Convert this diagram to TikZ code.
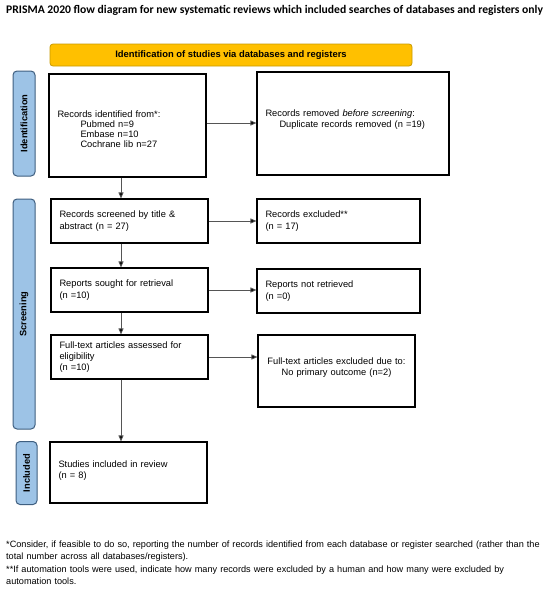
\documentclass[tikz,border=0pt]{standalone}
\usepackage{fontspec}
\setmainfont{Liberation Sans}
\newfontfamily\titlefont{Carlito}
\usetikzlibrary{arrows.meta}
\definecolor{bannerfill}{HTML}{FFC000}
\definecolor{bannerdraw}{HTML}{C99A00}
\definecolor{sidefill}{HTML}{9DC3E6}
\definecolor{sidedraw}{HTML}{3F5F80}
\definecolor{arrowgray}{HTML}{555555}
\tikzset{
  bx/.style={draw=black, line width=1.1pt, align=left, inner xsep=8.5pt, inner ysep=0pt,
    font=\fontsize{9.3}{11.2}\selectfont},
  banner/.style={draw=bannerdraw, fill=bannerfill, line width=0.8pt, rounded corners=3pt,
    font=\bfseries\fontsize{9.4}{11}\selectfont, inner sep=0pt},
  sidebar/.style={draw=sidedraw, fill=sidefill, line width=1pt, rounded corners=4pt,
    rotate=90, inner sep=0pt, font=\bfseries\fontsize{9.3}{10}\selectfont},
  arr/.style={draw=arrowgray, line width=0.8pt, -{Triangle[length=6pt,width=5pt,fill=black]}},
  foot/.style={anchor=north west, align=left, inner sep=0pt, text width=540pt,
    font=\fontsize{9.15}{12}\selectfont}
}
\begin{document}
\begin{tikzpicture}[x=1pt,y=-1pt]
\useasboundingbox[fill=white] (0,0) rectangle (550,592);

\node[anchor=west, inner sep=0pt, font=\titlefont\bfseries\fontsize{11.65}{13}\selectfont] (title) at (6,10)
  {PRISMA 2020 flow diagram for new systematic reviews which included searches of databases and registers only};

\node[banner, minimum width=362pt, minimum height=22pt] (banner) at (231,55)
  {Identification of studies via databases and registers};

% side bars
\node[sidebar, minimum width=105pt, minimum height=22pt] (sideid) at (24,123.5) {Identification};
\node[sidebar, minimum width=230pt, minimum height=22pt] (sidescr) at (24,314) {Screening};
\node[sidebar, minimum width=63pt, minimum height=21pt] (sideinc) at (26.5,473) {Included};

% boxes
\node[bx, text width=140pt, minimum height=103pt, font=\fontsize{9.3}{10}\selectfont] (b1) at (127.5,125.5)
  {\mbox{}\\[4pt]Records identified from*:\\
   \hspace*{23pt}Pubmed n=9\\
   \hspace*{23pt}Embase n=10\\
   \hspace*{23pt}Cochrane lib n=27};
\node[bx, text width=175pt, minimum height=103pt] (b2) at (353,123.5)
  {Records removed \textit{before screening}:\\
   \hspace*{14pt}Duplicate records removed (n =19)\\[-2pt]\mbox{}};
\node[bx, text width=140pt, minimum height=44pt] (b3) at (129.5,221)
  {Records screened by title \&\\abstract (n = 27)};
\node[bx, text width=146pt, minimum height=44pt] (b4) at (338.5,221)
  {Records excluded**\\(n = 17)};
\node[bx, text width=140pt, minimum height=44pt] (b5) at (129.5,290)
  {Reports sought for retrieval\\(n =10)};
\node[bx, text width=146pt, minimum height=44pt] (b6) at (338.5,291)
  {Reports not retrieved\\(n =0)};
\node[bx, text width=140pt, minimum height=44pt] (b7) at (129.5,357)
  {Full-text articles assessed for\\eligibility\\(n =10)};
\node[bx, text width=140pt, minimum height=72pt, align=center] (b8) at (336.5,371)
  {Full-text articles excluded due to:\\No primary outcome (n=2)\\[-3pt]\mbox{}};
\node[bx, text width=140pt, minimum height=61pt] (b9) at (128.5,472.5)
  {Studies included in review\\(n = 8)\\[-5pt]\mbox{}};

% connectors
\coordinate (ax) at (121,0);
\draw[arr] (b1.south -| ax) -- (b3.north -| ax);
\draw[arr] (b3.south -| ax) -- (b5.north -| ax);
\draw[arr] (b5.south -| ax) -- (b7.north -| ax);
\draw[arr] (b7.south -| ax) -- (b9.north -| ax);
\coordinate (h1) at (0,123);
\draw[arr] (b1.east |- h1) -- (b2.west |- h1);
\draw[arr] (b3.east) -- (b3.east -| b4.west);
\draw[arr] (b5.east) -- (b5.east -| b6.west);
\draw[arr] (b7.east) -- (b7.east -| b8.west);

% footnotes
\node[foot] (f1) at (6,541)
  {*Consider, if feasible to do so, reporting the number of records identified from each database or register searched (rather than the\\total number across all databases/registers).};
\node[foot] (f2) at (6,565.5)
  {**If automation tools were used, indicate how many records were excluded by a human and how many were excluded by\\automation tools.};
\end{tikzpicture}
\end{document}
